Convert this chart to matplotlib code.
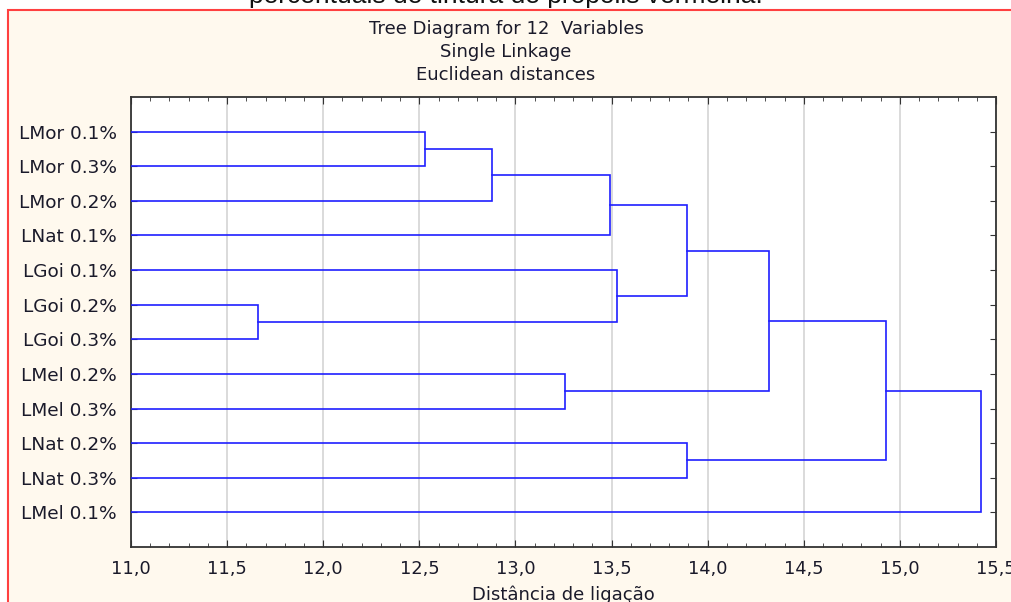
import matplotlib
matplotlib.use("Agg")
import matplotlib.pyplot as plt
from matplotlib.patches import Rectangle
from matplotlib.ticker import MultipleLocator, FuncFormatter

plt.rcParams['font.family'] = ['DejaVu Sans']

# leaf labels, top to bottom as shown in the tree
labels = ['LMor 0.1%', 'LMor 0.3%', 'LMor 0.2%', 'LNat 0.1%', 'LGoi 0.1%', 'LGoi 0.2%',
          'LGoi 0.3%', 'LMel 0.2%', 'LMel 0.3%', 'LNat 0.2%', 'LNat 0.3%', 'LMel 0.1%']

# merges: (child a, child b) ; ids >= 12 are clusters made by earlier merges
merge_a = [0, 12, 13, 5, 4, 14, 7, 17, 9, 19, 21]
merge_b = [1, 2, 3, 6, 15, 16, 8, 18, 10, 20, 11]
merge_h = [12.53, 12.88, 13.49, 11.66, 13.53, 13.89, 13.26, 14.32, 13.89, 14.93, 15.42]

LINE = '#1f1fff'
BG = '#fff9ee'
TXT = '#1a1a2a'

fig = plt.figure(figsize=(10.12, 6.02), dpi=100)
fig.patch.set_facecolor('white')

# framed panel (red border, cream fill)
W, H = 1012, 602
fig.patches.append(Rectangle((8 / W, -0.05), 1.2, 1 - 10 / H + 0.05, transform=fig.transFigure,
                             facecolor=BG, edgecolor='#ff4040', linewidth=1.5, zorder=-10))

# cut-off caption above the panel
fig.text(0.5, 1 - 3 / H, 'percentuais de tintura de própolis vermelha.', ha='center',
         va='baseline', fontsize=19, color='#111111', family='Liberation Sans', zorder=-20)

for txt, yy in [('Tree Diagram for 12  Variables', 29), ('Single Linkage', 52),
                ('Euclidean distances', 75)]:
    fig.text(0.5, 1 - yy / H, txt, ha='center', va='center', fontsize=13, color=TXT)

ax = fig.add_axes([131 / W, 1 - 547 / H, (996 - 131) / W, (547 - 97) / H])
ax.set_facecolor('white')

n = len(labels)
ypos = {i: i + 1 for i in range(n)}
xpos = {i: 11.0 for i in range(n)}
for k, (a, b, h) in enumerate(zip(merge_a, merge_b, merge_h)):
    ya, yb = ypos[a], ypos[b]
    ax.plot([xpos[a], h, h, xpos[b]], [ya, ya, yb, yb], color=LINE, lw=1.2,
             solid_joinstyle='miter', zorder=3)
    ypos[n + k] = (ya + yb) / 2
    xpos[n + k] = h

ax.set_xlim(11.0, 15.5)
ax.set_ylim(n + 1, 0)
ax.set_yticks(range(1, n + 1))
ax.set_yticklabels(labels)
ax.xaxis.set_major_locator(MultipleLocator(0.5))
ax.xaxis.set_minor_locator(MultipleLocator(0.1))
ax.xaxis.set_major_formatter(FuncFormatter(lambda v, p: f'{v:.1f}'.replace('.', ',')))
ax.grid(axis='x', color='#d4d4d4', lw=1.2, zorder=0)
ax.tick_params(axis='both', which='both', direction='in', top=True, right=True,
               color='#333333', labelcolor=TXT)
ax.tick_params(axis='x', which='major', length=5, labelsize=12.8, pad=9)
ax.tick_params(axis='x', which='minor', length=3)
ax.tick_params(axis='y', length=4, labelsize=13.3, pad=10)
for s in ax.spines.values():
    s.set_color('#333333')
    s.set_linewidth(1.3)

ax.set_xlabel('Distância de ligação', fontsize=13, color=TXT, labelpad=6)

fig.savefig('out.png', dpi=100, facecolor=fig.get_facecolor())
